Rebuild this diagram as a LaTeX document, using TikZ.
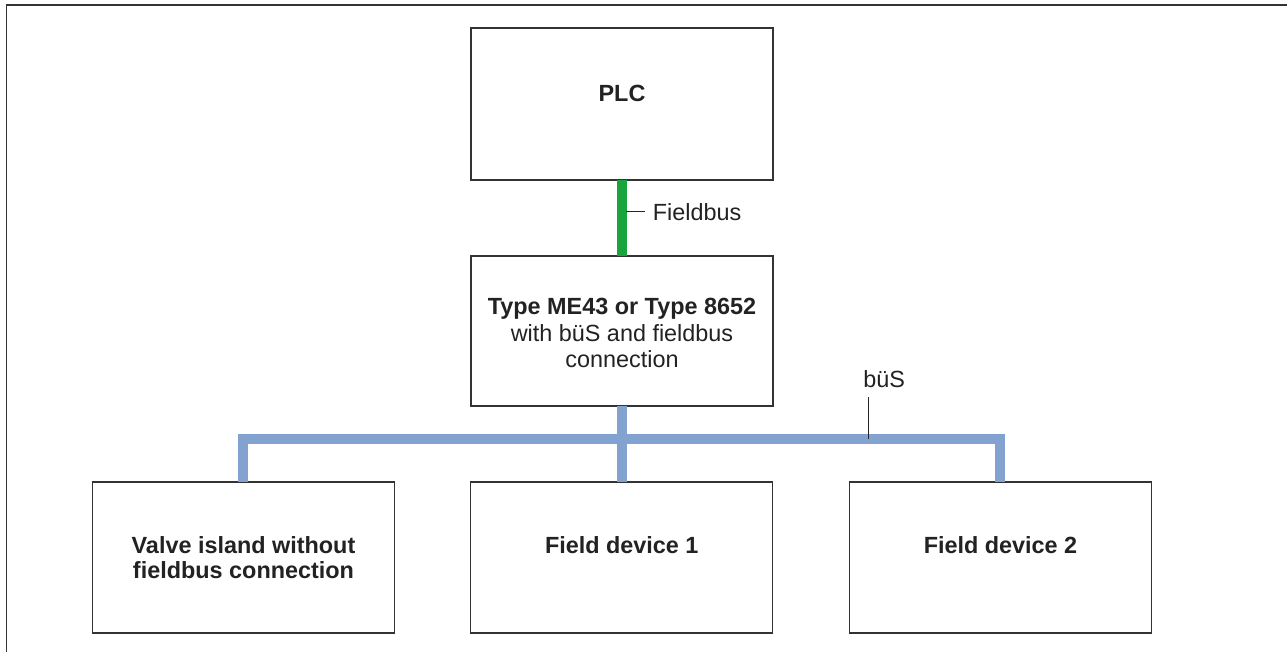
\documentclass[tikz,border=0pt]{standalone}
\usepackage{fontspec}
\setmainfont{Liberation Sans}
\begin{document}
\begin{tikzpicture}[x=0.5pt,y=-0.5pt,
  box/.style={draw=boxgray,line width=0.7pt,fill=white,inner sep=0pt,outer sep=0pt,minimum width=151pt,minimum height=76pt},
  txt/.style={anchor=base,inner sep=0pt,text=txtgray,font=\fontsize{11.7}{13.3}\selectfont},
  btxt/.style={txt,font=\fontsize{11.7}{13.3}\selectfont\bfseries},
  greenbus/.style={draw=busgreen,line width=5pt},
  bluebus/.style={draw=busblue,line width=5pt,line join=miter},
  tick/.style={draw=black!85,line width=0.5pt}]
\definecolor{boxgray}{HTML}{333333}
\definecolor{txtgray}{HTML}{222222}
\definecolor{busgreen}{HTML}{1AA53C}
\definecolor{busblue}{HTML}{82A3CF}
\useasboundingbox (0,0) rectangle (1287,652);
% frame (top and left edges only)
\draw[boxgray,line width=0.75pt] (6.5,652) -- (6.5,5) -- (1287,5);
% boxes
\node[box,minimum height=76pt] (plc) at (622,104) {};
\node[box,minimum height=75pt] (me) at (622,331) {};
\node[box,minimum height=75.5pt] (vi) at (243.75,557.5) {};
\node[box,minimum height=75.5pt] (fd1) at (621.75,557.5) {};
\node[box,minimum height=75.5pt] (fd2) at (1000.5,557.5) {};
% fieldbus
\draw[greenbus] (plc.south) -- (me.north);
\coordinate (fbtick) at (626,212);
\node[txt,anchor=base west] (fblabel) at (652.5,221) {Fieldbus};
\draw[tick] (fbtick) -- (645,212);
% buS
\coordinate (busL) at (243,439);
\coordinate (busR) at (1000,439);
\draw[bluebus] (vi.north -| busL) -- (busL) -- (busR) -- (fd2.north -| busR);
\draw[bluebus] (me.south) -- (fd1.north -| me.south);
\coordinate (bustick) at (868.5,439);
\draw[tick] (bustick) -- (868.5,397);
\node[txt,anchor=base west] (buslabel) at (863,388) {büS};
% texts
\node[btxt] (plcT) at (622,102) {PLC};
\node[btxt] (meT1) at (622,315) {Type ME43 or Type 8652};
\node[txt] (meT2) at (622,341.5) {with büS and fieldbus};
\node[txt] (meT3) at (622,368) {connection};
\node[btxt] (viT1) at (243.5,553) {Valve island without};
\node[btxt] (viT2) at (243.5,579) {fieldbus connection};
\node[btxt] (fd1T) at (621.75,553) {Field device 1};
\node[btxt] (fd2T) at (1000.5,553) {Field device 2};
\end{tikzpicture}
\end{document}
